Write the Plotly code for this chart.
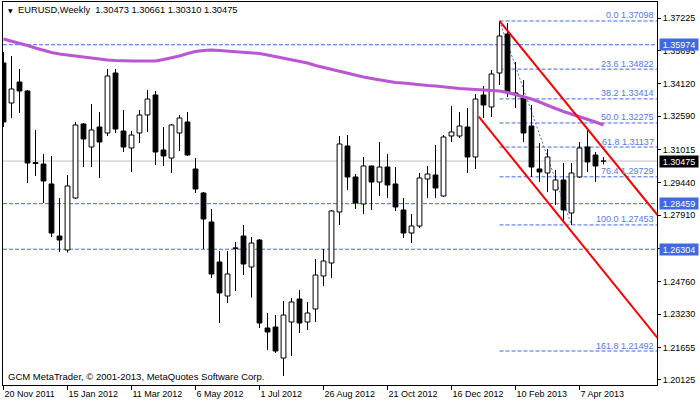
# -*- coding: utf-8 -*-
"""EURUSD semanal estilo MetaTrader, con canal, Fibonacci y media móvil."""

import plotly.graph_objects as go

FUENTE = "Liberation Sans"
AZUL = "#4169E1"
AZUL_TEXTO = "#5478E6"
MORADO = "#BA55D3"
ROJO = "#FF0000"
GRIS = "#C0C0C0"

# ── Datos ────────────────────────────────────────────────────────────────────

apertura = [
    1.35112, 1.33220, 1.34213, 1.33788, 1.30400, 1.30335, 1.29390, 1.26930,
    1.26268, 1.28727, 1.32227, 1.31139, 1.32085, 1.31801, 1.34639, 1.31896,
    1.31092, 1.31801, 1.32653, 1.33598, 1.30997, 1.30619, 1.31801, 1.32322,
    1.30099, 1.28964, 1.27592, 1.25701, 1.24093, 1.26340, 1.26930, 1.25464,
    1.26741, 1.22580, 1.22627, 1.21161, 1.22863, 1.23951, 1.22863, 1.23478,
    1.25039, 1.25654, 1.28065, 1.31187, 1.29721, 1.28444, 1.30241, 1.29484,
    1.30193, 1.29390, 1.28160, 1.27072, 1.27403, 1.29626, 1.29815, 1.28822,
    1.31659, 1.31659, 1.32085, 1.30666, 1.33598, 1.33031, 1.34639, 1.36483,
    1.33693, 1.33504, 1.32132, 1.30099, 1.29910, 1.29106, 1.29579, 1.28018,
    1.29721, 1.31139, 1.30761, 1.30473,
]
maximo = [
    1.35632, 1.35443, 1.34828, 1.33835, 1.31943, 1.30808, 1.30714, 1.28727,
    1.29815, 1.32322, 1.32274, 1.33173, 1.32794, 1.34828, 1.34828, 1.32889,
    1.31896, 1.32889, 1.33835, 1.33788, 1.32085, 1.32227, 1.32653, 1.32794,
    1.30619, 1.29011, 1.28207, 1.26221, 1.26221, 1.26647, 1.27451, 1.26883,
    1.26789, 1.23289, 1.23194, 1.23856, 1.23998, 1.24377, 1.23809, 1.25843,
    1.26316, 1.28160, 1.31659, 1.31707, 1.29862, 1.30666, 1.30260, 1.31376,
    1.30808, 1.30193, 1.28727, 1.27971, 1.29910, 1.30241, 1.31234, 1.31707,
    1.33078, 1.32794, 1.32984, 1.33646, 1.34024, 1.34781, 1.37098, 1.37003,
    1.35159, 1.34308, 1.33125, 1.31328, 1.31045, 1.30052, 1.30383, 1.30383,
    1.31376, 1.31990, 1.30903, 1.30661,
]
minimo = [
    1.32085, 1.32511, 1.32747, 1.29437, 1.29768, 1.28491, 1.26883, 1.26174,
    1.26150, 1.28680, 1.30193, 1.30193, 1.29673, 1.31659, 1.31801, 1.30903,
    1.29957, 1.31328, 1.31849, 1.30288, 1.30241, 1.29910, 1.30950, 1.30714,
    1.28964, 1.26316, 1.24944, 1.22816, 1.23762, 1.24329, 1.25086, 1.24022,
    1.22580, 1.21539, 1.21397, 1.20310, 1.21255, 1.22343, 1.22485, 1.22863,
    1.24566, 1.24944, 1.27451, 1.29106, 1.28207, 1.27971, 1.28160, 1.28822,
    1.28727, 1.28113, 1.26836, 1.26599, 1.27309, 1.28727, 1.28727, 1.28775,
    1.31376, 1.31565, 1.29910, 1.30099, 1.32511, 1.32558, 1.34071, 1.33504,
    1.32984, 1.31376, 1.29721, 1.29484, 1.29011, 1.28396, 1.27550, 1.27453,
    1.29673, 1.29957, 1.29484, 1.30310,
]
cierre = [
    1.32322, 1.33882, 1.33788, 1.30383, 1.30360, 1.29531, 1.27072, 1.26741,
    1.29295, 1.32180, 1.31518, 1.31943, 1.31376, 1.34497, 1.31990, 1.31139,
    1.31707, 1.32653, 1.33409, 1.30903, 1.30714, 1.32180, 1.32511, 1.30761,
    1.29153, 1.27734, 1.25133, 1.24235, 1.25133, 1.26370, 1.25606, 1.26599,
    1.22816, 1.22390, 1.21492, 1.23194, 1.23809, 1.22816, 1.23289, 1.25086,
    1.25748, 1.28113, 1.31281, 1.29721, 1.28491, 1.30241, 1.29484, 1.30193,
    1.29342, 1.28302, 1.27072, 1.27403, 1.29673, 1.29862, 1.29200, 1.31612,
    1.31849, 1.32132, 1.30666, 1.33409, 1.33125, 1.34592, 1.36389, 1.33740,
    1.33646, 1.31801, 1.30193, 1.29957, 1.30666, 1.29579, 1.28160, 1.29910,
    1.31092, 1.30430, 1.30241, 1.30475,
]
media = [
    1.36247, 1.36152, 1.36058, 1.35939, 1.35821, 1.35703, 1.35608, 1.35537,
    1.35490, 1.35419, 1.35372, 1.35324, 1.35277, 1.35254, 1.35230, 1.35206,
    1.35206, 1.35206, 1.35206, 1.35206, 1.35277, 1.35348, 1.35443, 1.35561,
    1.35655, 1.35703, 1.35726, 1.35703, 1.35679, 1.35655, 1.35632, 1.35608,
    1.35561, 1.35490, 1.35419, 1.35348, 1.35254, 1.35206, 1.35112, 1.34993,
    1.34899, 1.34804, 1.34710, 1.34615, 1.34521, 1.34450, 1.34379, 1.34308,
    1.34237, 1.34189, 1.34166, 1.34119, 1.34071, 1.34048, 1.34024, 1.33977,
    1.33953, 1.33906, 1.33882, 1.33858, 1.33835, 1.33811, 1.33788, 1.33717,
    1.33622, 1.33504, 1.33409, 1.33267, 1.33102, 1.32960, 1.32818, 1.32700,
    1.32582, 1.32440, 1.32322, 1.32180,
]

fechas_pos = [0, 8, 16, 24, 32, 40, 48, 56, 64, 72]
fechas_txt = ["20 Nov 2011", "15 Jan 2012", "11 Mar 2012", "6 May 2012",
              "1 Jul 2012", "26 Aug 2012", "21 Oct 2012", "16 Dec 2012",
              "10 Feb 2013", "7 Apr 2013"]

precios_eje = [1.37225, 1.35695, 1.34120, 1.32590, 1.31015, 1.29440,
               1.27910, 1.26335, 1.24760, 1.23230, 1.21655, 1.20125]

# canal bajista (barra, precio)
canal_sup_x = [62, 81.75]
canal_sup_y = [1.37098, 1.27923]
canal_inf_x = [59.41, 81.75]
canal_inf_y = [1.32572, 1.22107]

# retroceso de Fibonacci entre la barra 62 y la 71
fib_desde, fib_hasta = 62, 71
fib_niveles = ["0.0", "23.6", "38.2", "50.0", "61.8", "76.4", "100.0", "161.8"]
fib_precios = [1.37098, 1.34822, 1.33414, 1.32275, 1.31137, 1.29729,
               1.27453, 1.21492]

lineas_h = [1.35974, 1.28459, 1.26304]
precio_actual = 1.30475

rango_x = [-0.0625, 81.6875]
rango_y = [1.19884, 1.37996]

# ── Figura ───────────────────────────────────────────────────────────────────

idx = list(range(len(cierre)))
base = [min(o, c) for o, c in zip(apertura, cierre)]
alto = [abs(c - o) for o, c in zip(apertura, cierre)]
relleno = ['#FFFFFF' if c >= o else '#000000' for o, c in zip(apertura, cierre)]

mecha_x, mecha_y = [], []
for i, o, h, l, c in zip(idx, apertura, maximo, minimo, cierre):
    mecha_x += [i, i, None, i, i, None]
    mecha_y += [h, max(o, c), None, min(o, c), l, None]

fig = go.Figure()
fig.add_trace(go.Bar(
    x=idx, y=alto, base=base, width=0.6,
    marker=dict(color=relleno, line=dict(color='#000000', width=1)),
    hoverinfo='skip',
))
fig.add_trace(go.Scatter(
    x=mecha_x, y=mecha_y, mode='lines',
    line=dict(color='#000000', width=1), hoverinfo='skip',
))
fig.add_trace(go.Scatter(
    x=idx, y=media, mode='lines',
    line=dict(color=MORADO, width=3), hoverinfo='skip',
))
for cx, cy in ((canal_sup_x, canal_sup_y), (canal_inf_x, canal_inf_y)):
    fig.add_trace(go.Scatter(
        x=cx, y=cy, mode='lines',
        line=dict(color=ROJO, width=2), hoverinfo='skip',
    ))

shapes = []
for p in lineas_h:
    shapes.append(dict(type='line', xref='paper', x0=0, x1=1, yref='y',
                       y0=p, y1=p, layer='below',
                       line=dict(color=AZUL, width=1, dash='4px,2px')))
shapes.append(dict(type='line', xref='paper', x0=0, x1=1, yref='y',
                   y0=precio_actual, y1=precio_actual, layer='below',
                   line=dict(color=GRIS, width=1)))
for p in fib_precios:
    shapes.append(dict(type='line', xref='x', x0=fib_desde, x1=82, yref='y',
                       y0=p, y1=p, layer='below',
                       line=dict(color=AZUL, width=1, dash='4px,2px')))
shapes.append(dict(type='line', xref='x', yref='y',
                   x0=fib_desde, y0=fib_precios[0],
                   x1=fib_hasta, y1=fib_precios[6], layer='below',
                   line=dict(color=AZUL, width=1, dash='2px,2px')))

anotaciones = []
for nivel, p in zip(fib_niveles, fib_precios):
    anotaciones.append(dict(
        text=f"{nivel} {p:.5f}", xref='paper', x=1, xanchor='right', xshift=-1,
        yref='y', y=p, yanchor='bottom', yshift=-1.5, showarrow=False,
        font=dict(family=FUENTE, size=9, color=AZUL_TEXTO),
    ))
for p, fondo in [(v, AZUL) for v in lineas_h] + [(precio_actual, '#000000')]:
    anotaciones.append(dict(
        text=f"{p:.5f}", xref='paper', x=1, xanchor='left', xshift=2,
        yref='y', y=p, yanchor='middle', showarrow=False,
        width=36, height=9, borderpad=1, bgcolor=fondo, align='center',
        font=dict(family=FUENTE, size=9, color='#FFFFFF'),
    ))
anotaciones.append(dict(
    text="▼", xref='paper', x=0.004, xanchor='left', yref='paper', y=0.978,
    yanchor='middle', showarrow=False,
    font=dict(family="DejaVu Sans", size=6, color='#000000'),
))
anotaciones.append(dict(
    text="EURUSD,Weekly  1.30473 1.30661 1.30310 1.30475",
    xref='paper', x=0.02, xanchor='left', yref='paper', y=0.978,
    yanchor='middle', showarrow=False,
    font=dict(family=FUENTE, size=9.3, color='#000000'),
))
anotaciones.append(dict(
    text="GCM MetaTrader, © 2001-2013, MetaQuotes Software Corp.",
    xref='paper', x=0.004, xanchor='left', yref='paper', y=0.021,
    yanchor='middle', showarrow=False,
    font=dict(family=FUENTE, size=9.5, color='#000000'),
))

fig.update_layout(
    width=700, height=402,
    margin=dict(l=3, r=43, t=2, b=17),
    paper_bgcolor='#FFFFFF', plot_bgcolor='#FFFFFF',
    font=dict(family=FUENTE, size=9, color='#000000'),
    showlegend=False, barmode='overlay', hovermode=False,
    shapes=shapes, annotations=anotaciones,
    xaxis=dict(
        range=rango_x, showgrid=False, zeroline=False,
        showline=True, linecolor='#000000', linewidth=1, mirror=True,
        ticks='outside', ticklen=4, tickcolor='#000000',
        tickvals=fechas_pos, ticktext=fechas_txt,
        ticklabelposition='outside right',
        tickfont=dict(family=FUENTE, size=9, color='#000000'),
    ),
    yaxis=dict(
        range=rango_y, side='right', showgrid=False, zeroline=False,
        showline=True, linecolor='#000000', linewidth=1, mirror=True,
        ticks='outside', ticklen=3, tickcolor='#000000',
        tickvals=precios_eje, ticktext=[f"{v:.5f}" for v in precios_eje],
        tickfont=dict(family=FUENTE, size=9, color='#000000'),
    ),
)

# la página trae margen por defecto en <body>; se quita para que cuadre
fig.write_html("out.html", config={'displayModeBar': False},
               post_script="document.body.style.margin='0';")
